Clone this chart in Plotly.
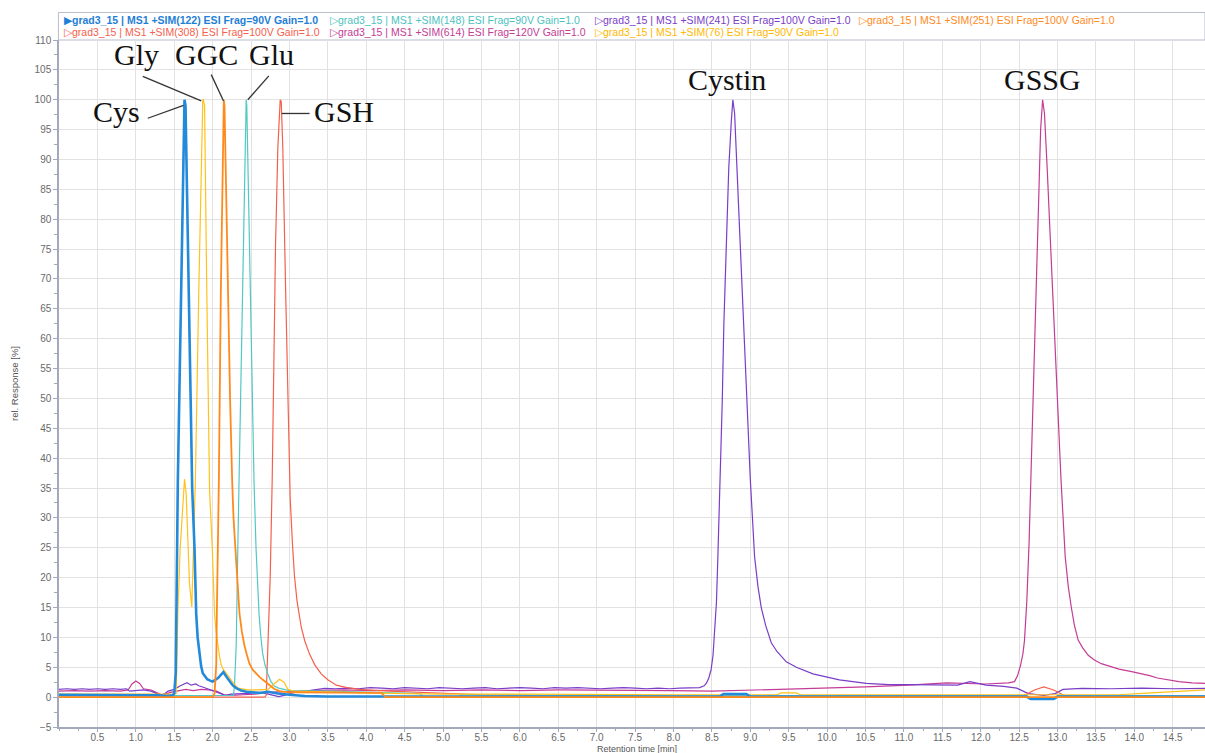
import plotly.graph_objects as go

# ---- chromatogram traces: retention time [min] and relative response [%] ----
cys_t = [0.0, 0.3, 0.6, 0.9, 1.1, 1.3, 1.4, 1.48, 1.50, 1.52, 1.547, 1.59, 1.634, 1.647, 1.69, 1.734,
         1.764, 1.786, 1.805, 1.829, 1.85, 1.872, 1.9, 1.93, 1.96, 2.0, 2.07, 2.11, 2.14, 2.18,
         2.22, 2.26, 2.31, 2.37, 2.44, 2.52, 2.61, 2.72, 2.85, 3.0, 3.2, 3.5, 4.0, 5.0, 6.0,
         7.0, 8.0, 8.6, 8.65, 8.95, 9.0, 10.0, 11.0, 12.0, 12.6, 12.65, 12.95, 13.0, 14.0, 14.92]
cys_y = [0.4, 0.4, 0.4, 0.3, 0.4, 0.3, 0.2, 0.3, 0.6, 4.0, 36, 68, 100, 99, 68, 35,
         25, 14, 10, 6.8, 5.2, 4.0, 3.4, 3.0, 2.8, 2.6, 3.2, 3.8, 4.2, 3.4,
         2.6, 2.0, 1.5, 1.1, 0.9, 0.8, 0.7, 0.9, 0.6, 0.4, 0.2, 0.1, 0.1, 0.1, 0.1,
         0.1, 0.1, 0.1, 0.5, 0.5, 0.1, 0.1, 0.1, 0.1, 0.1, -0.3, -0.3, 0.1, 0.1, 0.1]

gly_t = [0.0, 0.5, 1.0, 1.3, 1.5, 1.526, 1.547, 1.578, 1.604, 1.634, 1.656, 1.677, 1.699, 1.729,
         1.745, 1.775, 1.82, 1.85, 1.872, 1.88, 1.895, 1.924, 1.96, 1.995, 2.01, 2.025, 2.045,
         2.068, 2.09, 2.112, 2.14, 2.177, 2.21, 2.242, 2.28, 2.328, 2.45, 2.6, 2.72, 2.8, 2.87,
         2.93, 2.98, 3.05, 3.3, 3.6, 4.0, 4.5, 5.0, 6.0, 7.0, 8.0, 9.0, 9.35, 9.4, 9.6, 9.65,
         10.5, 11.5, 12.5, 13.5, 13.8, 14.05, 14.3, 14.6, 14.92]
gly_y = [0.5, 0.5, 0.5, 0.4, 0.5, 0.6, 14, 25, 31, 36.5, 34, 25, 19, 15.1,
         22, 36, 68, 88, 100, 100, 99, 68, 34.7, 25, 19, 14, 11,
         8.6, 6.8, 5.4, 4.6, 4.0, 3.4, 2.85, 2.2, 1.5, 1.2, 1.2, 1.3, 2.2, 3.0,
         2.5, 1.3, 1.0, 0.9, 0.8, 0.7, 0.6, 0.5, 0.5, 0.4, 0.4, 0.4, 0.4, 0.7, 0.7, 0.4,
         0.4, 0.4, 0.4, 0.4, 0.4, 0.6, 0.8, 1.0, 1.2]

ggc_t = [0.0, 0.5, 1.0, 1.5, 2.0, 2.025, 2.038, 2.047, 2.055, 2.068, 2.081, 2.107, 2.129, 2.146,
         2.155, 2.174, 2.198, 2.227, 2.255, 2.272, 2.307, 2.33, 2.35, 2.38, 2.415, 2.45, 2.48,
         2.52, 2.568, 2.61, 2.654, 2.7, 2.741, 2.8, 2.87, 3.0, 3.13, 3.5, 4.0, 4.2, 4.25, 5.0,
         6.0, 7.0, 8.0, 9.0, 10.0, 11.0, 12.0, 13.0, 14.0, 14.92]
ggc_y = [0.0, 0.0, 0.0, 0.0, 0.0, 0.6, 2.9, 5.4, 14, 25, 36, 68, 90, 100,
         99, 85, 68, 50, 36, 30, 22.7, 18, 14, 11, 8.6, 6.9, 5.6,
         4.6, 3.9, 3.4, 2.9, 2.4, 1.9, 1.4, 1.0, 0.8, 0.8, 0.8, 0.7, 0.7, 0.0, 0.0,
         0.0, 0.0, 0.0, 0.0, 0.0, 0.0, 0.0, 0.0, 0.0, 0.0]

gsh_t = [0.0, 1.0, 2.0, 2.68, 2.698, 2.719, 2.75, 2.776, 2.797, 2.819, 2.849, 2.88, 2.893, 2.914,
         2.949, 2.979, 3.01, 3.04, 3.066, 3.1, 3.154, 3.2, 3.262, 3.33, 3.414, 3.5, 3.61, 3.75,
         3.913, 4.3, 4.8, 5.5, 6.5, 8.0, 10.0, 12.0, 12.55, 12.7, 12.82, 12.95, 13.1, 13.5,
         14.5, 14.92]
gsh_y = [0.0, 0.0, 0.0, 0.0, 0.3, 7.2, 20.2, 36.5, 56, 75.6, 91.9, 100, 99.7, 91.9,
         69, 49.5, 33.2, 25.5, 20.2, 16, 11.7, 9.4, 7.2, 5.4, 3.9, 2.9, 2.0, 1.6,
         1.3, 1.0, 0.7, 0.4, 0.2, 0.1, 0.1, 0.1, 0.2, 1.2, 1.7, 1.2, 0.2, 0.1,
         0.1, 0.1]

glu_t = [0.0, 0.5, 1.0, 1.5, 2.0, 2.25, 2.272, 2.285, 2.307, 2.328, 2.344, 2.363, 2.385, 2.415,
         2.437, 2.445, 2.467, 2.49, 2.513, 2.539, 2.565, 2.585, 2.604, 2.625, 2.65, 2.68, 2.715,
         2.76, 2.806, 2.86, 2.914, 3.0, 3.5, 4.0, 4.7, 4.75, 5.2, 5.25, 6.0, 8.0, 10.0, 12.0,
         12.6, 12.65, 12.95, 13.0, 14.0, 14.92]
glu_y = [0.2, 0.2, 0.2, 0.2, 0.2, 0.2, 0.3, 2.0, 8.6, 25, 36, 50, 68, 90,
         100, 99, 85, 68, 50, 36, 25, 19, 14, 10.5, 7.4, 5.5, 4.0,
         2.6, 1.8, 1.5, 1.3, 1.1, 1.0, 0.8, 0.6, 0.0, 0.0, 0.4, 0.3, 0.2, 0.2, 0.2,
         0.2, -0.2, -0.2, 0.2, 0.2, 0.2]

cystin_t = [0.0, 0.1, 0.2, 0.3, 0.4, 0.5, 0.6, 0.7, 0.8, 0.88, 0.92, 1.0, 1.1, 1.2, 1.28, 1.32,
            1.38, 1.42, 1.5, 1.58, 1.667, 1.72, 1.78, 1.82, 1.87, 1.915, 1.96, 2.016, 2.08,
            2.165, 2.24, 2.315, 2.4, 2.465, 2.55, 2.63, 2.71, 2.78, 2.86, 2.93, 3.01, 3.1, 3.21,
            3.3, 3.46, 3.6, 3.75, 3.9, 4.05, 4.2, 4.35, 4.5, 4.65, 4.8, 4.95, 5.1, 5.25, 5.4,
            5.55, 5.7, 5.85, 6.0, 6.15, 6.3, 6.45, 6.6, 6.75, 6.9, 7.05, 7.2, 7.35, 7.5, 7.65,
            7.8, 7.95, 8.08, 8.2, 8.34, 8.4, 8.427, 8.46, 8.49, 8.515, 8.535, 8.56, 8.578, 8.609,
            8.635, 8.656, 8.688, 8.72, 8.753, 8.773, 8.796, 8.826, 8.87, 8.913, 8.956, 9.0,
            9.056, 9.1, 9.143, 9.2, 9.273, 9.35, 9.469, 9.6, 9.815, 10.0, 10.16, 10.51, 10.8,
            11.06, 11.4, 11.7, 11.86, 12.07, 12.3, 12.47, 12.62, 12.82, 12.97, 13.07, 13.32,
            13.7, 14.1, 14.5, 14.92]
cystin_y = [1.3, 1.4, 1.3, 1.4, 1.3, 1.4, 1.3, 1.4, 1.3, 1.4, 1.0, 1.1, 1.2, 1.0, 0.5, 0.3,
            0.6, 1.0, 1.3, 1.9, 2.4, 2.0, 2.2, 1.9, 1.7, 1.5, 1.2, 1.0, 0.7,
            0.3, 0.5, 0.6, 0.6, 0.6, 0.8, 0.8, 0.6, 0.3, 0.1, 0.3, 0.6, 0.9, 1.0,
            1.2, 1.45, 1.4, 1.5, 1.4, 1.6, 1.5, 1.4, 1.6, 1.5, 1.4, 1.6, 1.5, 1.4, 1.5,
            1.6, 1.4, 1.5, 1.6, 1.5, 1.4, 1.6, 1.5, 1.6, 1.5, 1.4, 1.5, 1.6, 1.5, 1.4,
            1.5, 1.4, 1.5, 1.6, 1.6, 1.9, 2.3, 3.2, 4.6, 7.0, 10.4, 16, 23.5, 36.5,
            49.5, 62.5, 75.6, 88.6, 96.4, 100, 97.7, 88.6, 75.6, 62.5, 49.5, 36.5,
            23.5, 18.5, 15, 12, 9.1, 7.6, 5.9, 5.0, 3.9, 3.3, 2.9, 2.3, 2.1,
            2.1, 2.0, 2.0, 2.6, 2.0, 1.8, 1.5, 0.6, 0.3, 0.6, 1.3, 1.45,
            1.4, 1.5, 1.4, 1.45]

gssg_t = [0.0, 0.2, 0.4, 0.6, 0.8, 0.9, 0.95, 1.0, 1.05, 1.1, 1.2, 1.3, 1.35, 1.45, 1.55, 1.65,
          1.75, 1.85, 1.95, 2.05, 2.15, 2.25, 2.4, 2.55, 2.7, 2.85, 3.0, 3.3, 3.7, 4.1, 4.5,
          5.0, 5.5, 6.0, 6.5, 7.0, 7.5, 8.0, 8.5, 9.05, 9.5, 10.05, 10.5, 11.06, 11.56, 12.06,
          12.36, 12.44, 12.48, 12.52, 12.55, 12.57, 12.6, 12.63, 12.66, 12.69, 12.72, 12.75,
          12.78, 12.806, 12.83, 12.865, 12.91, 12.955, 13.0, 13.045, 13.1, 13.14, 13.18, 13.22,
          13.27, 13.33, 13.4, 13.48, 13.57, 13.7, 13.8, 13.95, 14.08, 14.2, 14.3, 14.45, 14.58,
          14.75, 14.92]
gssg_y = [1.0, 1.1, 1.0, 1.1, 1.0, 1.2, 2.2, 2.7, 2.3, 1.4, 1.2, 0.6, 0.3, 0.8, 1.0, 1.3,
          1.1, 1.3, 1.2, 1.0, 0.4, 0.3, 0.4, 0.5, 0.8, 0.9, 1.0, 1.1, 1.2, 1.1, 1.2,
          1.1, 1.2, 1.1, 1.2, 1.2, 1.1, 1.1, 1.0, 1.2, 1.3, 1.45, 1.7, 2.0, 2.4, 2.2,
          2.4, 2.6, 3.6, 5.4, 7.3, 9.5, 16, 26, 40, 55, 70, 84,
          95, 100, 97.7, 88.6, 75.6, 62.5, 49.5, 36.5, 23.5, 18.5, 15, 12,
          9.5, 8.2, 7.0, 6.2, 5.6, 5.1, 4.7, 4.3, 4.0, 3.6, 3.2, 2.9, 2.6,
          2.4, 2.3]

# ---- series styling and legend text (drawing order: back to front) ----
series_names = [
    "grad3_15 | MS1 +SIM(614) ESI Frag=120V Gain=1.0",
    "grad3_15 | MS1 +SIM(241) ESI Frag=100V Gain=1.0",
    "grad3_15 | MS1 +SIM(308) ESI Frag=100V Gain=1.0",
    "grad3_15 | MS1 +SIM(148) ESI Frag=90V Gain=1.0",
    "grad3_15 | MS1 +SIM(76) ESI Frag=90V Gain=1.0",
    "grad3_15 | MS1 +SIM(122) ESI Frag=90V Gain=1.0",
    "grad3_15 | MS1 +SIM(251) ESI Frag=100V Gain=1.0",
]
series_t = [gssg_t, cystin_t, gsh_t, glu_t, gly_t, cys_t, ggc_t]
series_y = [gssg_y, cystin_y, gsh_y, glu_y, gly_y, cys_y, ggc_y]
series_colors = ["#c43c96", "#7a3dc8", "#f5604c", "#52c8c4", "#ffc21a", "#2389d9", "#ff8a1c"]
series_widths = [1.2, 1.2, 1.2, 1.2, 1.2, 2.6, 1.8]

# legend rows (label, colour, selected)
legend_rows = [
    [("grad3_15 | MS1 +SIM(122) ESI Frag=90V Gain=1.0", "#1f80d6", True),
     ("grad3_15 | MS1 +SIM(148) ESI Frag=90V Gain=1.0", "#4cc3c0", False),
     ("grad3_15 | MS1 +SIM(241) ESI Frag=100V Gain=1.0", "#7a3dc8", False),
     ("grad3_15 | MS1 +SIM(251) ESI Frag=100V Gain=1.0", "#ff8a1c", False)],
    [("grad3_15 | MS1 +SIM(308) ESI Frag=100V Gain=1.0", "#f5604c", False),
     ("grad3_15 | MS1 +SIM(614) ESI Frag=120V Gain=1.0", "#c43c96", False),
     ("grad3_15 | MS1 +SIM(76) ESI Frag=90V Gain=1.0", "#ffb800", False)],
]

x_ticks = [0.5, 1.0, 1.5, 2.0, 2.5, 3.0, 3.5, 4.0, 4.5, 5.0, 5.5, 6.0, 6.5, 7.0, 7.5,
           8.0, 8.5, 9.0, 9.5, 10.0, 10.5, 11.0, 11.5, 12.0, 12.5, 13.0, 13.5, 14.0, 14.5]

# compound labels: text, position, leader line start/end (data units)
peak_labels = ["Cys", "Gly", "GGC", "Glu", "GSH", "Cystin", "GSSG"]
label_pos = [(0.755, 98.1), (1.005, 107.5), (1.917, 107.5), (2.773, 107.5), (3.704, 98.1),
             (8.691, 103.4), (12.81, 103.4)]
leader_lines = [((1.156, 96.9), (1.621, 99.05)),
                ((1.091, 103.9), (1.852, 99.8)),
                ((1.982, 104.2), (2.142, 99.8)),
                ((2.732, 104.0), (2.458, 100.0)),
                ((2.901, 97.7), (3.262, 97.7))]

W, H = 1205, 753
ML, MR, MT, MB = 59, 0, 40, 26
PW, PH = W - ML - MR, H - MT - MB

fig = go.Figure()
for t, y, name, col, w in zip(series_t, series_y, series_names, series_colors, series_widths):
    fig.add_trace(go.Scatter(x=t, y=y, mode="lines", name=name,
                             line=dict(color=col, width=w), showlegend=False))

axis_col = "#a3a8ba"
sans = "Liberation Sans, Arial, sans-serif"
tick_font = dict(family=sans, size=10, color="#6a6a6a")

fig.update_layout(
    width=W, height=H,
    margin=dict(l=ML, r=MR, t=MT, b=MB),
    paper_bgcolor="white", plot_bgcolor="white",
    xaxis=dict(range=[0, 14.92], tickmode="array", tickvals=x_ticks,
               ticktext=[f"{v:.1f}" for v in x_ticks],
               showgrid=True, gridcolor="#e2e2e2", gridwidth=1.3,
               showline=True, linecolor=axis_col, linewidth=1.5,
               ticks="outside", ticklen=3, tickcolor=axis_col, ticklabelstandoff=-3,
               minor=dict(dtick=0.25, tick0=0, ticks="outside", ticklen=2, tickcolor=axis_col,
                          showgrid=False),
               tickfont=tick_font, zeroline=False),
    yaxis=dict(range=[-5, 110], tick0=-5, dtick=5,
               showgrid=True, gridcolor="#e2e2e2", gridwidth=1.3,
               showline=True, linecolor=axis_col, linewidth=1.5,
               ticks="outside", ticklen=4, tickcolor=axis_col,
               minor=dict(dtick=2.5, tick0=0, ticks="outside", ticklen=3, tickcolor=axis_col,
                          showgrid=False),
               tickfont=tick_font, zeroline=False,
               title=dict(text="rel. Response [%]", standoff=14,
                          font=dict(family=sans, size=9.5, color="#555"))),
    showlegend=False,
)

# x-axis title placed under the tick labels
fig.add_annotation(xref="paper", yref="paper", x=(637 - ML) / PW, y=(H - MB - 748.5) / PH,
                   xanchor="center", yanchor="middle", showarrow=False,
                   text="Retention time [min]", font=dict(family=sans, size=9, color="#555"))

# legend frame above the plot
fig.add_shape(type="rect", xref="paper", yref="paper",
              x0=-0.0005, x1=1.0, y0=1.0, y1=(H - MB - 12.5) / PH,
              line=dict(color="#b9bdcc", width=1), fillcolor="white", layer="below")

col_px = [62, 328, 593, 857]
row_py = [20.5, 32]
for r, row in enumerate(legend_rows):
    for c, (txt, col, sel) in enumerate(row):
        sym = "\u25B6" if sel else "\u25B7"
        label = f"{sym}<b>{txt}</b>" if sel else f"{sym}{txt}"
        fig.add_annotation(xref="paper", yref="paper",
                           x=(col_px[c] - ML) / PW, y=(H - MB - row_py[r]) / PH,
                           xanchor="left", yanchor="middle", showarrow=False,
                           text=label, font=dict(family=sans, size=10.5, color=col))

for txt, (lx, ly) in zip(peak_labels, label_pos):
    fig.add_annotation(x=lx, y=ly, xref="x", yref="y", text=txt, showarrow=False,
                       xanchor="center", yanchor="middle",
                       font=dict(family="Liberation Serif, Times New Roman, serif", size=30,
                                 color="#111"))

for (x0, y0), (x1, y1) in leader_lines:
    fig.add_shape(type="line", xref="x", yref="y", x0=x0, y0=y0, x1=x1, y1=y1,
                  line=dict(color="#333", width=1.3))

fig.write_html("out.html")
